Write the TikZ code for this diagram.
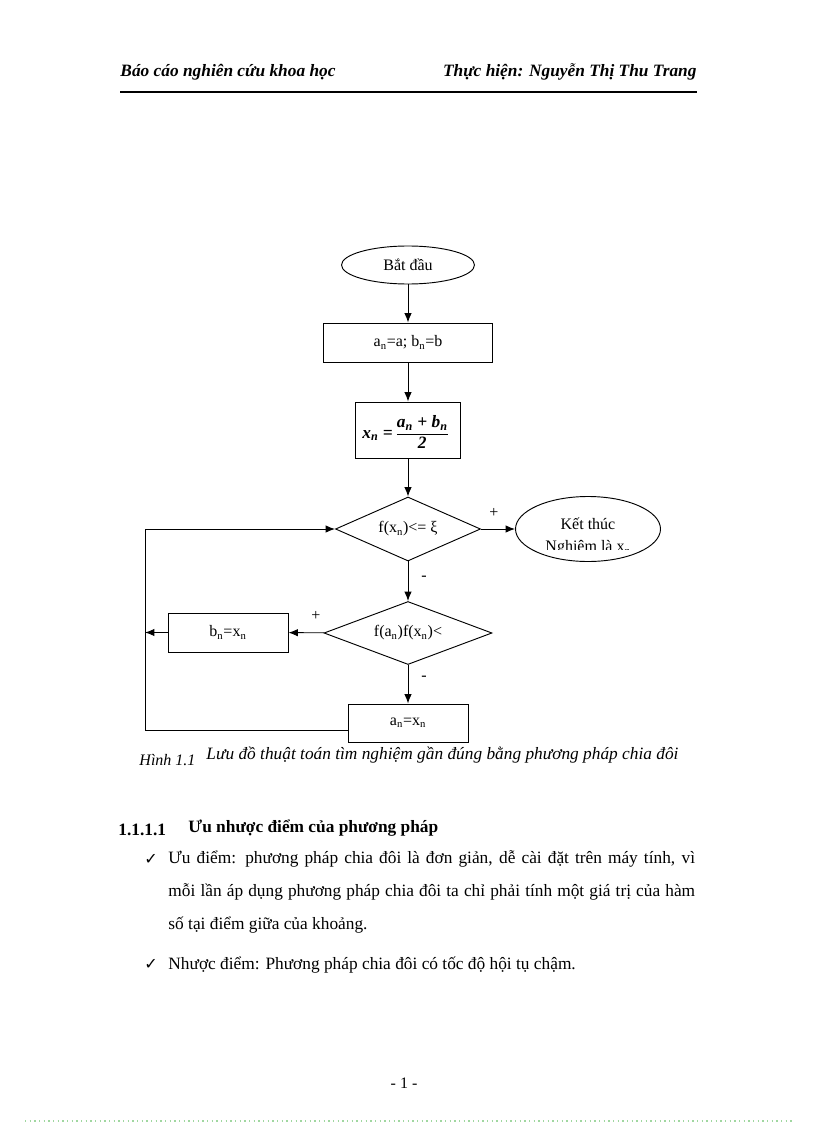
\documentclass[tikz,border=0pt]{standalone}
\usepackage{fontspec}
\setmainfont{Liberation Serif}
\newfontfamily\symfont{DejaVu Sans}
\usetikzlibrary{shapes.geometric,arrows.meta}
\definecolor{dotline}{RGB}{160,215,160}
\newcommand{\midformula}{x\textsubscript{n} = \begin{tabular}{@{}c@{}}a\textsubscript{n} + b\textsubscript{n}\\\hline 2\end{tabular}}

\begin{document}
\begin{tikzpicture}[x=0.75pt,y=-0.75pt,line width=0.7pt,
  >={Latex[length=7pt,width=5.5pt]},
  lbl/.style={font=\fontsize{12}{14}\selectfont,inner sep=0pt}]
\useasboundingbox (0,0) rectangle (816,1123);
% header
\node[anchor=base west,inner sep=0pt,font=\fontsize{13}{15}\selectfont\bfseries\itshape] (hleft) at (120,77) {Báo cáo nghiên cứu khoa học};
\node[anchor=base east,inner sep=0pt,font=\fontsize{13}{15}\selectfont\bfseries\itshape] (hright) at (697,77) {Thực hiện: Nguyễn Thị Thu Trang};
\draw[line width=0.9pt] (120,92) -- (697,92);
% flowchart
\node[shape=ellipse,draw=black,minimum width=99.75pt,minimum height=28.5pt,inner sep=0pt,lbl] (start) at (408,265) {Bắt đầu};
\node[shape=rectangle,draw=black,minimum width=126.75pt,minimum height=29.25pt,lbl] (init) at (408,342.5) {a\textsubscript{n}=a; b\textsubscript{n}=b};
\node[shape=rectangle,draw=black,minimum width=78.75pt,minimum height=42pt,inner sep=0pt] (mid) at (408,430) {};
\node[inner sep=0pt,font=\fontsize{13}{15}\selectfont\bfseries\itshape] (midf) at (405,434) {\midformula};
\node[shape=diamond,draw=black,aspect=2.27,minimum width=108.75pt,minimum height=48pt,inner sep=0pt,lbl] (test1) at (408,529) {f(x\textsubscript{n})<= ξ};
\node[shape=ellipse,draw=black,minimum width=108.75pt,minimum height=48.75pt,inner sep=0pt] (stop) at (588,529) {};
\node[lbl] (stopa) at (588,524) {Kết thúc};
\begin{scope}
\clip (525,538) rectangle (655,549);
\node[lbl,anchor=north] (stopb) at (588,540) {Nghiệm là x\textsubscript{n}};
\end{scope}
\node[shape=diamond,draw=black,aspect=2.67,minimum width=126pt,minimum height=47.25pt,inner sep=0pt,lbl] (test2) at (408,633) {f(a\textsubscript{n})f(x\textsubscript{n})<};
\node[shape=rectangle,draw=black,minimum width=90pt,minimum height=29.25pt,lbl] (bBox) at (228,632.5) {b\textsubscript{n}=x\textsubscript{n}};
\node[shape=rectangle,draw=black,minimum width=90pt,minimum height=28.5pt,lbl] (aBox) at (408,723) {a\textsubscript{n}=x\textsubscript{n}};
\coordinate (loopLow) at (145,730);
\coordinate (loopHigh) at (145,529);
\coordinate (bJoin) at (145,632.5);
\path [->] (start) edge (init);
\path [->] (init) edge (mid);
\path [->] (mid) edge (test1);
\path [->] (test1) edge (stop);
\path [->] (test1) edge (test2);
\path [->] (test2) edge (bBox);
\path [->] (test2) edge (aBox);
\path [->] (bBox) edge (bJoin);
\draw [->] ([yshift=-5.25pt]aBox.west) -- (loopLow) -- (loopHigh) -- (test1.west);
\node[lbl] (plus1) at (494,513) {+};
\node[lbl] (minus1) at (424,578) {-};
\node[lbl] (plus2) at (316,616) {+};
\node[lbl] (minus2) at (424,678) {-};
% caption
\node[anchor=base west,inner sep=0pt,font=\fontsize{12}{14}\selectfont\itshape] (capnum) at (139,765) {Hình 1.1};
\node[anchor=base west,inner sep=0pt,font=\fontsize{13}{15}\selectfont\itshape] (captext) at (206,759) {Lưu đồ thuật toán tìm nghiệm gần đúng bằng phương pháp chia đôi};
% section
\node[anchor=base west,inner sep=0pt,font=\fontsize{13}{15}\selectfont\bfseries] (secnum) at (118,835) {1.1.1.1};
\node[anchor=base west,inner sep=0pt,font=\fontsize{13}{15}\selectfont\bfseries] (sectitle) at (188,832) {Ưu nhược điểm của phương pháp};
\node[anchor=base west,inner sep=0pt,font=\fontsize{12}{14}\symfont] (tick1) at (144,864) {✓};
\node[anchor=north west,inner sep=0pt,text width=395pt,align=justify,font=\fontsize{13}{24.75}\selectfont] (para1) at (168,850) {Ưu điểm: phương pháp chia đôi là đơn giản, dễ cài đặt trên máy tính, vì\linebreak mỗi lần áp dụng phương pháp chia đôi ta chỉ phải tính một giá trị của hàm\linebreak số tại điểm giữa của khoảng.};
\node[anchor=base west,inner sep=0pt,font=\fontsize{12}{14}\symfont] (tick2) at (144,969) {✓};
\node[anchor=base west,inner sep=0pt,font=\fontsize{13}{15}\selectfont] (para2) at (168,969) {Nhược điểm: Phương pháp chia đôi có tốc độ hội tụ chậm.};
% footer
\node[inner sep=0pt,font=\fontsize{12}{14}\selectfont] (pageno) at (404,1083) {- 1 -};
\draw[dotline,line width=1pt,dash pattern=on 1pt off 2.5pt] (25,1121) -- (795,1121);
\end{tikzpicture}
\end{document}
